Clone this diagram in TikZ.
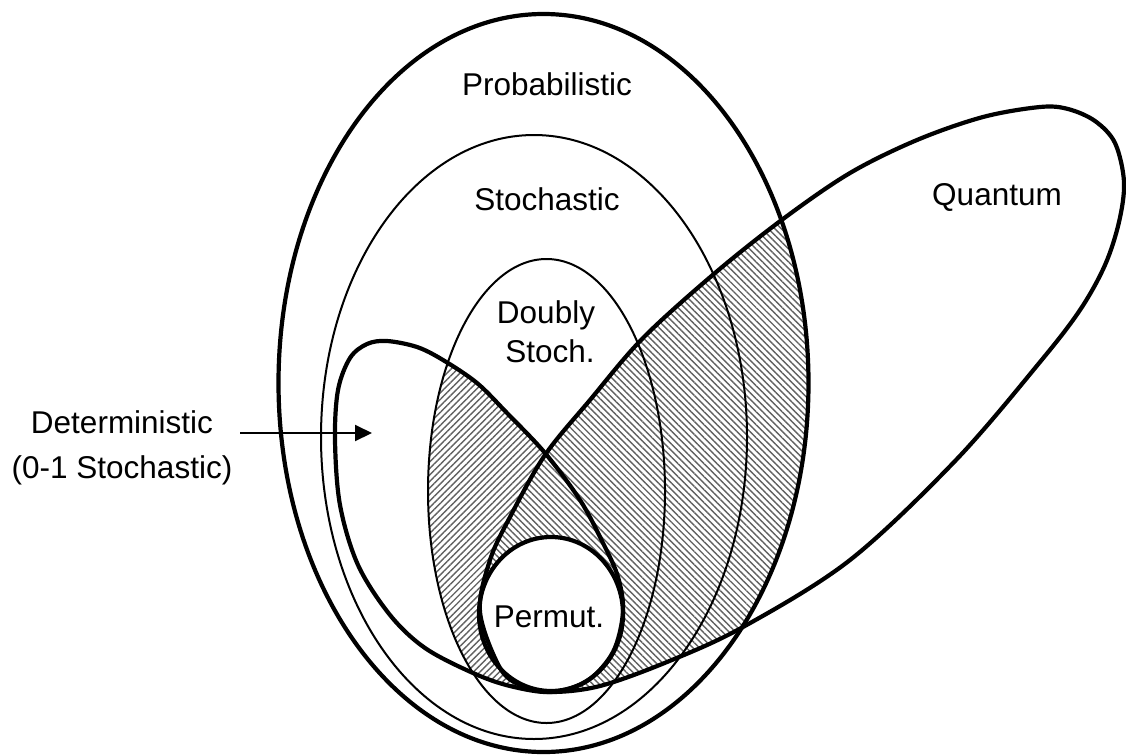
\documentclass[tikz,border=0pt]{standalone}
\usepackage{fontspec}
\setmainfont{Liberation Sans}
\usetikzlibrary{patterns.meta,arrows.meta}
\begin{document}
\begin{tikzpicture}[x=1pt,y=-1pt,
  thickline/.style={line width=4.2pt},
  thinline/.style={line width=2pt},
  lbl/.style={font=\fontsize{31.5}{37}\selectfont, inner sep=0pt, anchor=base},
  hatchA/.style={pattern={Lines[angle=45,distance=4.6pt,line width=1.4pt]},pattern color=black!62},
  hatchB/.style={pattern={Lines[angle=-45,distance=4.6pt,line width=1.4pt]},pattern color=black!62},
  arrowline/.style={line width=2pt,-{Triangle[length=17pt,width=16pt]}}
]
\useasboundingbox (0,0) rectangle (1126,755);
\def\outerP{(543.5,383) ellipse [x radius=265, y radius=369]}
\def\stochP{(534,437) ellipse [x radius=213, y radius=302]}
\def\doublyP{(546.5,491) ellipse [x radius=118.5, y radius=232]}
\def\permP{(551,614) ellipse [x radius=72, y radius=77]}
\def\quantP{plot[smooth cycle, tension=0.55] coordinates {
 (551,692) (600,686) (667,662) (743,627) (850,560) (956,460) (1040,362)
 (1080,310) (1105,265) (1119,222) (1124,182) (1115,143) (1095,121)
 (1068,109) (1040,107) (983,117)
 (917,140) (850,173) (783,219) (715,273) (643,338) (590,400) (545,455)
 (510,517) (490,560) (480,612) (500,668) (522,686)}}
\def\detP{plot[smooth cycle, tension=0.55] coordinates {
 (551,692) (510,686) (473,673) (425,648) (390,615) (358,565) (340,505)
 (335,440) (338,390) (350,358) (367,344) (387,341) (417,347) (443,360)
 (477,383) (507,413) (545,453) (580,500) (603,543) (618,577) (623,612)
 (613,652) (587,681)}}
% hatched regions
\begin{scope}
  \clip \doublyP;
  \fill[hatchA] \detP;
\end{scope}
\begin{scope}
  \clip \outerP;
  \fill[white] \quantP;
  \fill[hatchB] \quantP;
\end{scope}
\fill[white] \permP;
% outlines
\draw[thickline] \outerP;
\draw[thinline] \stochP;
\draw[thinline] \doublyP;
\draw[thickline] \quantP;
\draw[thickline] \detP;
\draw[thickline] \permP;
% labels
\node[lbl] (prob) at (547,95) {Probabilistic};
\node[lbl] (stoch) at (547,210) {Stochastic};
\node[lbl] (ds1) at (546,323) {Doubly};
\node[lbl] (ds2) at (550,362) {Stoch.};
\node[lbl] (perm) at (549,627) {Permut.};
\node[lbl] (quant) at (997,205) {Quantum};
\node[lbl] (det1) at (122,433) {Deterministic};
\node[lbl] (det2) at (122,478) {(0-1 Stochastic)};
\coordinate (arrowtip) at (372,433);
\draw[arrowline] (det1.base east) ++(27,0) -- (arrowtip);
\end{tikzpicture}
\end{document}
